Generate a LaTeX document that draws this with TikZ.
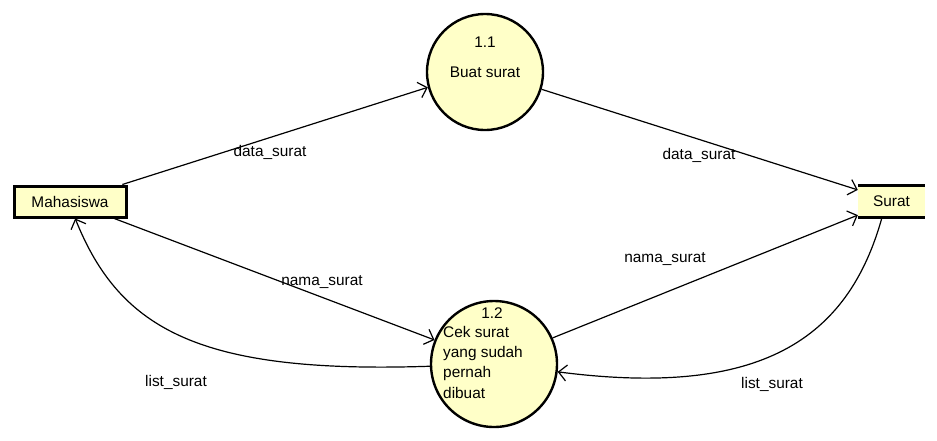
\documentclass[tikz,border=0pt]{standalone}
\usepackage{fontspec}
\setmainfont{Liberation Sans}
\usetikzlibrary{arrows.meta}
\definecolor{pfill}{RGB}{255,255,200}
\tikzset{
  every node/.style={font=\fontsize{15.4}{18}\selectfont, inner sep=0pt},
  entity/.style={draw, line width=3pt, fill=pfill, minimum width=112pt, minimum height=31pt},
  store/.style={fill=pfill, minimum width=67pt, minimum height=31pt},
  proc/.style={draw, circle, line width=2.4pt, fill=pfill},
  flow/.style={line width=1.2pt, -{Straight Barb[length=8pt,width=16pt,line width=1.2pt]}},
  lbl/.style={anchor=center}
}
\begin{document}
\begin{tikzpicture}[x=1pt,y=1pt]
\useasboundingbox (0,0) rectangle (937,-440);
\node[entity] (m) at (70,-201.5) {Mahasiswa};
\node[store] (s) at (891.5,-201.5) {Surat};
\draw[line width=3pt] (s.north west) -- (s.north east) (s.south west) -- (s.south east);
\node[proc, minimum size=116pt] (c1) at (485,-72) {};
\node[proc, minimum size=126pt] (c2) at (494,-364) {};
\node (t11) at (485,-42) {1.1};
\node (t11b) at (485,-72) {Buat surat};
\node (t12) at (492,-313) {1.2};
\node[anchor=north west, align=left, font=\fontsize{15.4}{20.3}\selectfont] (t12b) at (443,-326) {Cek surat\\yang sudah\\pernah\\dibuat};

\draw[flow] (m.18) -- (c1.195);
\draw[flow] (c1.-17) -- (s.161);
\draw[flow] (m.-21) -- (c2.158);
\draw[flow] (c2.24) -- (s.-158);
\draw[flow] (c2.182) .. controls (200,-374) and (120,-330) .. (m.-73);
\draw[flow] (s.-121.5) .. controls (848,-340) and (760,-398) .. (c2.-7);

\node[lbl] (l1) at (270,-152) {data\_surat};
\node[lbl] (l2) at (699,-155) {data\_surat};
\node[lbl] (l3) at (322,-282) {nama\_surat};
\node[lbl] (l4) at (665,-259) {nama\_surat};
\node[lbl] (l5) at (176,-382) {list\_surat};
\node[lbl] (l6) at (772,-384) {list\_surat};
\end{tikzpicture}
\end{document}
